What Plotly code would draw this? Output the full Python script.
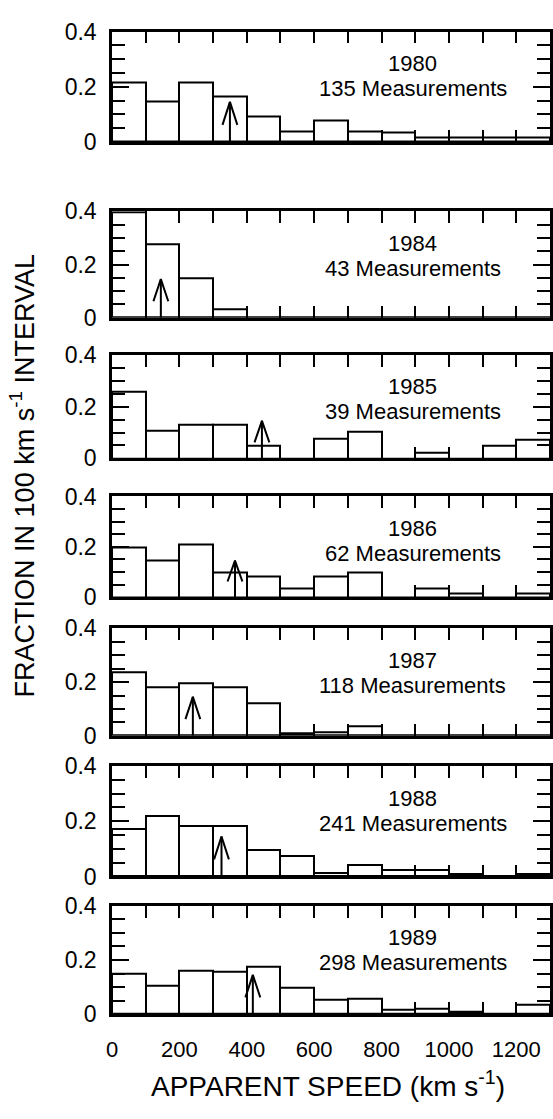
import plotly.graph_objects as go

# Speed bins (km/s), 100 km/s wide
bin_start = [0, 100, 200, 300, 400, 500, 600, 700, 800, 900, 1000, 1100, 1200]
bin_width = 100

years = ["1980", "1984", "1985", "1986", "1987", "1988", "1989"]
n_meas = [135, 43, 39, 62, 118, 241, 298]

frac_1980 = [0.215, 0.148, 0.217, 0.163, 0.092, 0.036, 0.078, 0.036, 0.033, 0.015, 0.015, 0.015, 0.015]
frac_1984 = [0.395, 0.277, 0.149, 0.030, 0, 0, 0, 0, 0, 0, 0, 0, 0]
frac_1985 = [0.257, 0.107, 0.128, 0.128, 0.050, 0, 0.077, 0.103, 0, 0.020, 0, 0.049, 0.072]
frac_1986 = [0.198, 0.145, 0.210, 0.097, 0.083, 0.034, 0.083, 0.098, 0, 0.034, 0.013, 0, 0.015]
frac_1987 = [0.238, 0.179, 0.194, 0.179, 0.121, 0.008, 0.014, 0.034, 0, 0, 0, 0, 0]
frac_1988 = [0.171, 0.219, 0.181, 0.181, 0.096, 0.075, 0.011, 0.040, 0.022, 0.022, 0.008, 0, 0.008]
frac_1989 = [0.148, 0.106, 0.162, 0.156, 0.175, 0.098, 0.053, 0.056, 0.015, 0.021, 0.009, 0, 0.035]

fractions = [frac_1980, frac_1984, frac_1985, frac_1986, frac_1987, frac_1988, frac_1989]

# Median apparent speed per year (arrow position, km/s)
median_speed = [350, 145, 445, 365, 240, 325, 418]

x_ticks = [0, 200, 400, 600, 800, 1000, 1200]
x_ticklabels = ["0", "200", "400", "600", "800", "1000", "1200"]
x_minor_ticks = [100, 300, 500, 700, 900, 1100]
y_ticks = [0, 0.2, 0.4]
y_ticklabels = ["0", "0.2", "0.4"]
y_minor_ticks = [0.05, 0.1, 0.15, 0.25, 0.3, 0.35]

# Panel placement (pixel rows top/bottom in a 1119 px tall page)
FIG_W, FIG_H = 553, 1119
panel_px = [(19, 132), (203, 312), (350, 456), (495, 598), (630, 740), (771, 884), (914, 1025)]

FONT = "Liberation Sans, Arial, Helvetica, sans-serif"
ARROW_TIP = 0.145
HEAD_LEN = 0.083
HEAD_HALF = 22

fig = go.Figure()
layout = dict(
    width=FIG_W, height=FIG_H,
    margin=dict(l=112, r=1, t=0, b=0),
    paper_bgcolor="white", plot_bgcolor="white",
    showlegend=False,
    bargap=0,
    font=dict(family=FONT, color="black"),
)
annotations = []

centers = [b + bin_width / 2 for b in bin_start]

for i, (yr, n, fr, med) in enumerate(zip(years, n_meas, fractions, median_speed)):
    k = "" if i == 0 else str(i + 1)
    xa, ya = "x" + k, "y" + k
    fig.add_trace(go.Bar(
        x=centers, y=fr, width=bin_width, xaxis=xa, yaxis=ya,
        marker=dict(color="white", line=dict(color="black", width=2)),
    ))
    # upward arrow marking the median speed
    fig.add_trace(go.Scatter(
        x=[med, med, None, med - HEAD_HALF, med, med + HEAD_HALF],
        y=[0, ARROW_TIP, None, ARROW_TIP - HEAD_LEN, ARROW_TIP, ARROW_TIP - HEAD_LEN],
        mode="lines", line=dict(color="black", width=2),
        xaxis=xa, yaxis=ya, hoverinfo="skip",
    ))
    top, bot = panel_px[i]
    dom = [1 - bot / FIG_H, 1 - top / FIG_H]
    last = i == len(years) - 1
    layout["xaxis" + k] = dict(
        domain=[0, 1], anchor=ya, range=[0, 1300],
        tickmode="array", tickvals=x_ticks, ticktext=x_ticklabels,
        showticklabels=last,
        ticks="inside", ticklen=12, tickwidth=2, tickcolor="black",
        minor=dict(tickmode="array", tickvals=x_minor_ticks, ticks="inside",
                   ticklen=12, tickwidth=2, tickcolor="black", showgrid=False),
        showline=True, linewidth=2.5, linecolor="black", mirror="ticks",
        showgrid=False, zeroline=False,
        tickfont=dict(size=22, family=FONT, color="black"),
        ticklabelstandoff=14,
    )
    layout["yaxis" + k] = dict(
        domain=dom, anchor=xa, range=[0, 0.4],
        tickmode="array", tickvals=y_ticks, ticktext=y_ticklabels,
        ticks="inside", ticklen=17, tickwidth=2, tickcolor="black",
        minor=dict(tickmode="array", tickvals=y_minor_ticks, ticks="inside",
                   ticklen=13, tickwidth=2, tickcolor="black", showgrid=False),
        showline=True, linewidth=2.5, linecolor="black", mirror="ticks",
        showgrid=False, zeroline=False,
        tickfont=dict(size=23, family=FONT, color="black"),
        ticklabelstandoff=8,
    )
    for txt, shift in ((yr, -32), (f"{n} Measurements", -57)):
        annotations.append(dict(
            x=893, xref=xa, y=1, yref=ya + " domain", yshift=shift,
            text=txt, showarrow=False, xanchor="center", yanchor="middle",
            font=dict(size=22, family=FONT, color="black"),
        ))

annotations.append(dict(
    x=(22 - 112) / 440, y=1 - 474 / FIG_H, xref="paper", yref="paper",
    text="FRACTION IN 100 km s<sup>-1</sup> INTERVAL", textangle=-90,
    showarrow=False, xanchor="center", yanchor="middle",
    font=dict(size=27, family=FONT, color="black"),
))
annotations.append(dict(
    x=(329 - 112) / 440, y=1 - 1096 / FIG_H, xref="paper", yref="paper",
    text="APPARENT SPEED (km s<sup>-1</sup>)",
    showarrow=False, xanchor="center", yanchor="middle",
    font=dict(size=28, family=FONT, color="black"),
))
layout["annotations"] = annotations
fig.update_layout(**layout)
fig.write_html("out.html")
